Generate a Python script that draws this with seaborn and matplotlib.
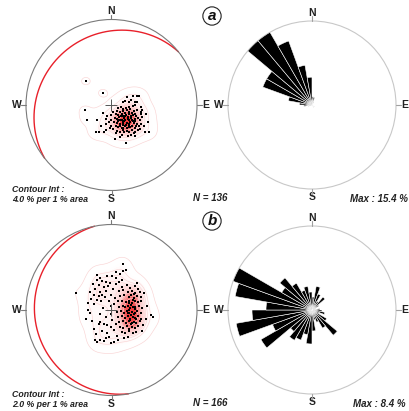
import numpy as np
import matplotlib
matplotlib.use("Agg")
import matplotlib.pyplot as plt
import seaborn as sns
from matplotlib.colors import LinearSegmentedColormap
from matplotlib.patches import Circle

# ---------------- data ----------------
# Poles, panel a (equal-area projection, unit = primitive radius; x east, y north)
poles_a_x = [-0.30, -0.10, -0.31, -0.29, -0.17, -0.18, -0.15, 0.04, 0.17, 0.39, 0.44, 0.43, 0.36, 0.32, 0.18, 0.23, 0.14,
             -0.05, -0.07, -0.01,
             0.25, 0.30, 0.16, 0.21, 0.28, 0.35, 0.35, -0.09, -0.06, -0.02, -0.06, 0.00, 0.02,
             0.05, 0.08, 0.10, 0.12, 0.14, 0.16, 0.18, 0.20, 0.22, 0.24, 0.26, 0.28, 0.30,
             0.04, 0.07, 0.09, 0.11, 0.13, 0.15, 0.17, 0.19, 0.21, 0.23, 0.25, 0.27, 0.29, 0.31,
             0.03, 0.06, 0.08, 0.10, 0.12, 0.14, 0.16, 0.18, 0.20, 0.22, 0.24, 0.26, 0.28, 0.30, 0.33,
             0.05, 0.08, 0.10, 0.12, 0.14, 0.16, 0.18, 0.20, 0.22, 0.24, 0.27, 0.29, 0.32,
             0.07, 0.10, 0.13, 0.15, 0.18, 0.21, 0.24, 0.26, 0.12, 0.19, 0.23,
             0.13, 0.17, 0.21, 0.25, 0.28, 0.11,
             0.15, 0.19, 0.13, 0.17, 0.21, 0.11, 0.23, 0.09, 0.25, 0.16, 0.20, 0.14,
             0.34, 0.36, 0.35, 0.31, 0.00, 0.02, -0.03, 0.38,
             0.08, 0.06, -0.12, 0.27, 0.33, 0.40, 0.05, -0.10, 0.30, 0.10, 0.28]
poles_a_y = [0.28, 0.14, -0.06, -0.17, -0.17, -0.31, -0.31, -0.40, -0.44, -0.31, -0.32, -0.20, -0.06, 0.10, 0.09, 0.06, 0.04,
             -0.13, -0.22, -0.25,
             0.11, 0.10, 0.05, 0.04, 0.03, -0.02, -0.08, -0.32, -0.29, -0.27, -0.16, -0.12, -0.08,
             -0.10, -0.12, -0.08, -0.10, -0.07, -0.09, -0.06, -0.08, -0.05, -0.09, -0.07, -0.10, -0.06,
             -0.15, -0.16, -0.14, -0.17, -0.13, -0.15, -0.12, -0.14, -0.11, -0.15, -0.12, -0.16, -0.13, -0.15,
             -0.20, -0.21, -0.19, -0.22, -0.18, -0.20, -0.17, -0.21, -0.18, -0.20, -0.17, -0.21, -0.19, -0.22, -0.18,
             -0.25, -0.26, -0.24, -0.27, -0.23, -0.25, -0.27, -0.23, -0.26, -0.24, -0.27, -0.25, -0.24,
             -0.30, -0.31, -0.29, -0.32, -0.30, -0.31, -0.29, -0.33, -0.35, -0.36, -0.35,
             -0.05, -0.03, -0.02, -0.01, 0.00, -0.02,
             -0.19, -0.16, -0.22, -0.23, -0.22, -0.13, -0.13, -0.18, -0.19, -0.13, -0.26, -0.27,
             -0.10, -0.14, -0.22, -0.29, -0.18, -0.28, -0.20, -0.25,
             -0.04, -0.07, -0.25, -0.31, -0.28, -0.10, -0.33, -0.09, 0.04, -0.37, -0.36]

# Poles, panel b
poles_b_x = [0.14, 0.17, -0.05, 0.01, 0.05, -0.17, -0.17, -0.11, -0.07, -0.02, -0.15, -0.09, -0.04, -0.19, -0.13, -0.11,
             -0.15, -0.08, -0.25, -0.28, -0.42, -0.20, -0.17, -0.12, -0.06, 0.02, 0.05, 0.09, -0.22, -0.13, 0.00, -0.03,
             -0.23, -0.15, -0.13, -0.09, -0.05, 0.01, -0.01, 0.03, -0.19, -0.17, -0.09, -0.03, 0.03, -0.25, -0.21, -0.13,
             -0.07, -0.20, -0.11, -0.05, 0.00, -0.14, -0.01, -0.07,
             0.12, 0.18, 0.22, 0.27, 0.31,
             0.09, 0.14, 0.19, 0.24, 0.28, 0.33,
             0.10, 0.15, 0.20, 0.23, 0.26, 0.30, 0.35,
             0.08, 0.12, 0.17, 0.21, 0.24, 0.27, 0.31, 0.34,
             0.09, 0.13, 0.16, 0.19, 0.22, 0.25, 0.28, 0.32, 0.36,
             0.07, 0.11, 0.15, 0.18, 0.21, 0.24, 0.27, 0.30, 0.34,
             0.08, 0.12, 0.16, 0.19, 0.22, 0.25, 0.28, 0.31, 0.35,
             0.09, 0.13, 0.17, 0.20, 0.23, 0.26, 0.29, 0.33,
             0.10, 0.14, 0.18, 0.21, 0.24, 0.27, 0.31,
             0.12, 0.16, 0.20, 0.25, 0.29,
             0.20, 0.23, 0.26, 0.22, 0.25, 0.19, 0.27, 0.24, 0.21, 0.29, 0.23, 0.26,
             0.46, 0.48, 0.40, 0.42,
             0.05, 0.10, -0.30, -0.27, 0.06, 0.08, 0.15, 0.37, 0.38, 0.12, -0.01, 0.04, 0.05, -0.18, -0.10, 0.30,
             0.36, 0.03, 0.19, -0.24, 0.13]
poles_b_y = [0.54, 0.47, 0.40, 0.40, 0.37, 0.41, 0.35, 0.34, 0.33, 0.32, 0.29, 0.27, 0.28, 0.24, 0.21, 0.17,
             0.16, 0.15, 0.21, 0.08, 0.20, 0.18, 0.12, 0.10, 0.22, 0.24, 0.30, 0.33, 0.30, 0.38, 0.18, 0.10,
             -0.13, -0.16, -0.14, -0.16, -0.18, -0.12, -0.20, -0.23, -0.35, -0.37, -0.36, -0.31, -0.37, -0.04, 0.07, -0.05,
             -0.08, -0.22, -0.25, -0.27, -0.05, -0.35, -0.39, -0.33,
             0.27, 0.29, 0.26, 0.28, 0.25,
             0.22, 0.23, 0.21, 0.22, 0.20, 0.21,
             0.16, 0.17, 0.15, 0.17, 0.14, 0.16, 0.15,
             0.10, 0.11, 0.09, 0.11, 0.08, 0.10, 0.09, 0.11,
             0.04, 0.05, 0.03, 0.05, 0.02, 0.04, 0.03, 0.05, 0.02,
             -0.02, -0.01, -0.03, -0.01, -0.04, -0.02, -0.03, -0.01, -0.04,
             -0.08, -0.07, -0.09, -0.07, -0.10, -0.08, -0.09, -0.07, -0.10,
             -0.14, -0.13, -0.15, -0.13, -0.16, -0.14, -0.15, -0.13,
             -0.20, -0.21, -0.19, -0.22, -0.20, -0.21, -0.19,
             -0.26, -0.27, -0.25, -0.27, -0.26,
             0.00, 0.06, -0.05, -0.12, 0.12, -0.04, 0.01, -0.15, 0.08, -0.11, -0.06, 0.19,
             -0.06, -0.08, -0.10, 0.05,
             0.45, 0.42, -0.10, 0.00, -0.30, -0.35, -0.33, -0.18, 0.20, 0.35, 0.05, 0.14, -0.16, -0.28, 0.02, 0.32,
             -0.24, 0.07, -0.31, 0.13, 0.46]

# Best-fit planes (dip direction, dip) drawn as great circles
plane_a = (321.5, 18.0)
plane_b = (258.5, 11.0)

# Rose diagrams: 10-degree bins (start azimuth), percentages
rose_bins = list(range(0, 360, 10))
rose_a = [1.5, 1.5, 0.7, 0, 0, 0, 0, 0, 0, 0, 0, 0, 0, 0.7, 0, 0, 0, 0,
          0, 0, 0, 0, 0, 0, 0, 0.7, 1.5, 2.3, 4.4, 9.6, 9.6, 15.4, 15.4, 12.5, 7.4, 5.1]
rose_b = [1.3, 2.4, 1.7, 1.0, 1.7, 0.8, 0.4, 0.4, 0.8, 1.0, 1.3, 0.8, 1.7, 3.3, 2.1, 1.3, 1.0, 2.1,
          3.4, 2.5, 3.2, 3.5, 2.8, 5.9, 4.2, 7.7, 6.0, 4.6, 7.8, 8.4, 3.5, 4.2, 3.1, 2.1, 2.4, 1.8]

labels_a = {"contour": ["Contour Int :", "4.0 % per 1 % area"], "n": "N = 136", "max": "Max : 15.4 %", "tag": "a"}
labels_b = {"contour": ["Contour Int :", "2.0 % per 1 % area"], "n": "N = 166", "max": "Max : 8.4 %", "tag": "b"}

# ---------------- style ----------------
sns.set_style("white")
plt.rcParams['font.family'] = ['Liberation Sans', 'DejaVu Sans']

W, H = 410, 411
fig = plt.figure(figsize=(W / 100, H / 100), dpi=100)
L = 1.22
reds = LinearSegmentedColormap.from_list("wr", ["#ffffff", "#fff2f2", "#fcc8c8", "#f57070", "#ee3434"])


def frame_axes(cx, cy, R, circ_color, tick_color):
    s = 2 * L * R
    ax = fig.add_axes([(cx - L * R) / W, (H - cy - L * R) / H, s / W, s / H])
    ax.set_xlim(-L, L)
    ax.set_ylim(-L, L)
    ax.axis('off')
    ax.add_patch(Circle((0, 0), 1.0, fill=False, ec=circ_color, lw=0.8, zorder=5))
    for ang in (0, 90, 180, 270):
        a = np.radians(ang)
        ax.plot([np.sin(a), 1.055 * np.sin(a)], [np.cos(a), 1.055 * np.cos(a)], color=tick_color, lw=0.8, zorder=5)
    kw = dict(fontsize=7.5, fontweight='bold', ha='center', va='center', color='#222222')
    ax.text(0, 1.095, "N", **kw)
    ax.text(0, -1.10, "S", **kw)
    ax.text(-1.11, 0, "W", **kw)
    ax.text(1.105, 0, "E", **kw)
    return ax


def great_circle(dipdir, dip, n=181):
    dd = np.radians(dipdir)
    d = np.radians(dip)
    st = dd - np.pi / 2
    t = np.linspace(0, np.pi, n)
    s = np.array([np.sin(st), np.cos(st), 0.0])
    dv = np.array([np.sin(dd) * np.cos(d), np.cos(dd) * np.cos(d), -np.sin(d)])
    v = np.outer(np.cos(t), s) + np.outer(np.sin(t), dv)
    plunge = np.arcsin(np.clip(-v[:, 2], -1, 1))
    trend = np.arctan2(v[:, 0], v[:, 1])
    r = np.sqrt(2) * np.sin((np.pi / 2 - plunge) / 2)
    return r * np.sin(trend), r * np.cos(trend)


def stereonet(cx, cy, px, py, plane, bw):
    ax = frame_axes(cx, cy, 85.5, "#7a7a7a", "#7a7a7a")
    sns.kdeplot(x=px, y=py, fill=True, cmap=reds, levels=24, thresh=0.08, bw_adjust=bw, ax=ax, zorder=1)
    sns.kdeplot(x=px, y=py, fill=False, color="#f9d4d4", levels=8, thresh=0.03, bw_adjust=bw * 1.15,
                linewidths=0.45, ax=ax, zorder=2)
    sns.scatterplot(x=px, y=py, marker='s', s=3.5, color='black', linewidth=0, ax=ax, zorder=4)
    gx, gy = great_circle(*plane)
    ax.plot(gx, gy, color="#e8202a", lw=1.0, zorder=4)
    ax.plot([0], [0], marker='+', ms=8, mew=0.7, color="#555555", zorder=4)
    ax.set_xlim(-L, L)
    ax.set_ylim(-L, L)
    ax.set_xlabel("")
    ax.set_ylabel("")


def rose(cx, cy, vals):
    R = 84.0
    frame_axes(cx, cy, R, "#c8c8c8", "#a0a0a0")
    axp = fig.add_axes([(cx - R) / W, (H - cy - R) / H, 2 * R / W, 2 * R / H], projection='polar')
    axp.set_theta_zero_location('N')
    axp.set_theta_direction(-1)
    theta = np.radians(np.array(rose_bins) + 5)
    axp.bar(theta, vals, width=np.radians(10), bottom=0, color='black', edgecolor='white', linewidth=0.4)
    axp.set_ylim(0, max(vals))
    axp.axis('off')
    axp.patch.set_alpha(0)


def texts(dy, lab):
    tkw = dict(fontsize=6.3, fontweight='bold', style='italic', color='#222222', va='center', ha='left')
    fig.text(12.5 / W, 1 - (189 + dy) / H, lab["contour"][0], **tkw)
    fig.text(12.5 / W, 1 - (199.5 + dy) / H, lab["contour"][1], **tkw)
    nkw = dict(fontsize=7, fontweight='bold', style='italic', color='#222222', va='center', ha='center')
    fig.text(210.5 / W, 1 - (198 + dy) / H, lab["n"], **nkw)
    fig.text(379 / W, 1 - (198.5 + dy) / H, lab["max"], **nkw)
    fig.text(212 / W, 1 - (16 + dy) / H, lab["tag"], fontsize=11, fontweight='bold', style='italic',
             ha='center', va='center', color='#111111',
             bbox=dict(boxstyle='circle,pad=0.14', fc='white', ec='#222222', lw=0.8))


stereonet(111.5, 105, poles_a_x, poles_a_y, plane_a, 1.0)
stereonet(111.5, 310, poles_b_x, poles_b_y, plane_b, 0.85)
rose(312, 105, rose_a)
rose(312, 310, rose_b)
texts(0, labels_a)
texts(205, labels_b)

fig.savefig("out.png", dpi=100, facecolor='white')
